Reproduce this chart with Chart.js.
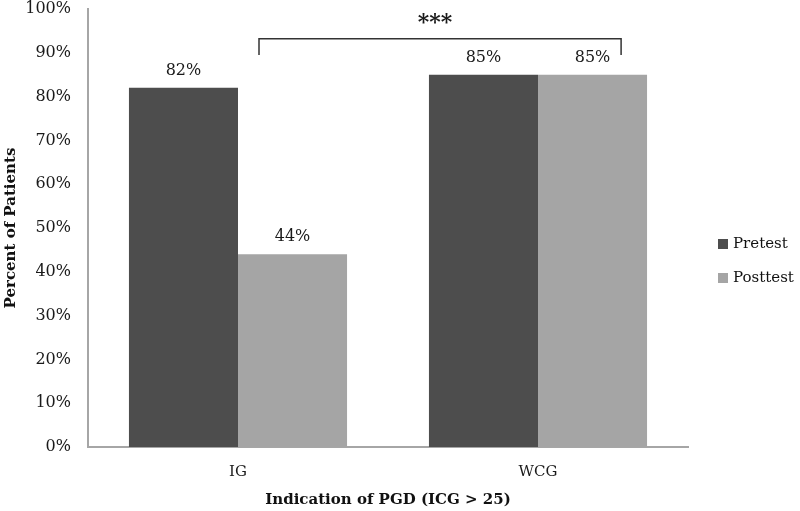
<!DOCTYPE html>
<html>
<head>
<meta charset="utf-8">
<script src="https://cdn.jsdelivr.net/npm/chart.js@4"></script>
<style>
  html, body { margin: 0; padding: 0; background: #fff; }
  #wrap { width: 800px; height: 511px; }
</style>
</head>
<body>
<div id="wrap"><canvas id="chart" width="800" height="511"></canvas></div>
<script>
var categories = ["IG", "WCG"];
var seriesNames = ["Pretest", "Posttest"];
var pretest = [82, 85];
var posttest = [44, 85];
var seriesColors = ["#4d4d4d", "#a5a5a5"];
var yTicks = [0, 10, 20, 30, 40, 50, 60, 70, 80, 90, 100];

// significance bracket, in data units (x in category index, y in percent)
var bracketX = [0.07, 1.277];
var bracketY = [93.2, 89.5];
var bracketLabel = "***";
var bracketLabelY = 97.9;

var FONT = "'DejaVu Serif', serif";

var extras = {
    id: 'extras',
    afterDatasetsDraw: function(chart) {
        var ctx = chart.ctx;
        var xs = chart.scales.x, ys = chart.scales.y;
        ctx.save();
        // value labels above bars
        ctx.fillStyle = '#1a1a1a';
        ctx.font = '16px ' + FONT;
        ctx.textAlign = 'center';
        ctx.textBaseline = 'middle';
        chart.data.datasets.forEach(function(ds, i) {
            chart.getDatasetMeta(i).data.forEach(function(bar, j) {
                ctx.fillText(ds.data[j] + '%', bar.x, bar.y - 17);
            });
        });
        // bracket
        var x1 = xs.getPixelForValue(bracketX[0]);
        var x2 = xs.getPixelForValue(bracketX[1]);
        var yt = ys.getPixelForValue(bracketY[0]);
        var yb = ys.getPixelForValue(bracketY[1]);
        ctx.strokeStyle = '#333';
        ctx.lineWidth = 1.5;
        ctx.beginPath();
        ctx.moveTo(x1, yb);
        ctx.lineTo(x1, yt);
        ctx.lineTo(x2, yt);
        ctx.lineTo(x2, yb);
        ctx.stroke();
        ctx.font = 'bold 22px ' + FONT;
        ctx.fillStyle = '#1a1a1a';
        ctx.fillText(bracketLabel, (x1 + x2) / 2 - 5, ys.getPixelForValue(bracketLabelY) + 5);
        // legend
        ctx.font = '15px ' + FONT;
        ctx.textAlign = 'left';
        seriesNames.forEach(function(name, i) {
            var y = 244 + i * 34;
            ctx.fillStyle = seriesColors[i];
            ctx.fillRect(718, y - 5, 10, 10);
            ctx.fillStyle = '#111';
            ctx.fillText(name, 733, y);
        });
        ctx.restore();
    }
};

new Chart(document.getElementById('chart').getContext('2d'), {
    type: 'bar',
    data: {
        labels: categories,
        datasets: [
            { label: seriesNames[0], data: pretest, backgroundColor: seriesColors[0] },
            { label: seriesNames[1], data: posttest, backgroundColor: seriesColors[1] }
        ]
    },
    options: {
        responsive: false,
        animation: false,
        layout: { padding: { top: 9, right: 112, bottom: 0, left: 0 } },
        categoryPercentage: 0.727,
        barPercentage: 1.0,
        plugins: {
            legend: { display: false },
            tooltip: { enabled: false }
        },
        scales: {
            x: {
                afterFit: function(axis) {
                    axis.height = 64;
                    axis.paddingLeft = 0;
                    axis.paddingRight = 0;
                },
                grid: { display: false, drawTicks: false },
                border: { color: '#a6a6a6', width: 2 },
                ticks: { color: '#1a1a1a', font: { family: FONT, size: 15 }, padding: 16 },
                title: { display: true, text: 'Indication of PGD (ICG > 25)', color: '#111',
                         font: { family: FONT, size: 15, weight: 'bold' }, padding: { top: 0, bottom: 2 } }
            },
            y: {
                min: 0, max: 100,
                afterBuildTicks: function(axis) {
                    axis.ticks = yTicks.map(function(v) { return { value: v }; });
                },
                afterFit: function(axis) {
                    axis.width = 88;
                    axis.paddingTop = 0;
                    axis.paddingBottom = 0;
                },
                grid: { display: false, drawTicks: false },
                border: { color: '#a6a6a6', width: 2 },
                ticks: { color: '#1a1a1a', font: { family: FONT, size: 16 }, padding: 17,
                         callback: function(v) { return v + '%'; } },
                title: { display: true, text: 'Percent of Patients', color: '#111',
                         font: { family: FONT, size: 15, weight: 'bold' }, padding: { top: 2, bottom: 2 } }
            }
        }
    },
    plugins: [extras]
});
</script>
</body>
</html>
